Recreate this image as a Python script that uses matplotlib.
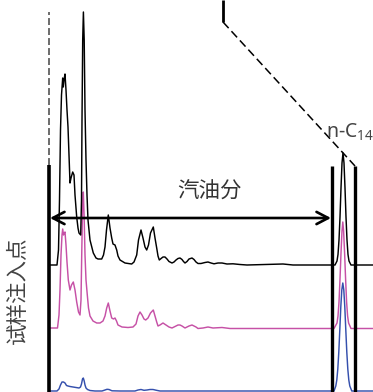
import matplotlib
matplotlib.use("Agg")
import matplotlib.pyplot as plt

plt.rcParams['lines.scale_dashes'] = False
plt.rcParams['mathtext.default'] = 'regular'

# ---------------- data ----------------
# x: retention position, signal: height above each trace's own baseline
black_x = [50, 57, 58.5, 59.5, 60.5, 61.5, 62.7, 63.3, 64, 65, 66, 67, 68, 69, 70, 71, 72.7, 74, 75,
           76.7, 78, 79, 80.7, 81.5, 82, 82.7, 83.4, 84.2, 85, 86, 87, 88, 90, 93.3, 96, 98, 101.7,
           103.5, 105, 106.5, 108.3, 110, 111.7, 113, 115, 116.7, 118, 120, 125, 131.7, 134, 136.7,
           138.5, 141, 143, 145, 146.7, 148.5, 150.5, 153.3, 155, 156.7, 158, 159.3, 161.7, 163, 165,
           167, 169, 172, 174, 176, 178, 180, 182, 183.5, 185, 187, 189, 192, 194, 196, 198, 201,
           205, 208, 211, 214, 218, 222, 227, 233, 240, 247, 283, 293,
           335, 337, 338, 339, 340, 341, 342, 343, 344, 345, 346, 347, 348, 349, 351, 373]
black_sig = [0, 0, 15, 65, 135, 170, 187, 178, 185, 191, 175, 155, 138, 110, 82, 87, 93, 90, 70,
             48, 37, 32, 30, 65, 145, 225, 253, 225, 155, 105, 70, 45, 25, 12, 7, 6, 6,
             10, 18, 35, 50, 37, 27, 21, 20, 15, 9, 5, 2, 1, 3, 10,
             25, 35, 27, 18, 15, 20, 32, 38, 27, 17, 9, 5, 7, 8, 8,
             6, 3.5, 2, 3, 5, 6.5, 7, 5.5, 3.5, 2, 3.5, 6, 7, 5.5, 3, 1.5, 1.5,
             2.5, 3, 2, 1.2, 2, 2, 1, 1.2, 0.5, 0, 1, 0,
             0, 4, 10.5, 25, 48, 77, 102, 112, 102, 77, 48, 25, 10.5, 4, 0, 0]

magenta_x = [50, 57.5, 59, 60, 61, 62, 62.7, 63.5, 64.3, 65, 66, 67, 68.3, 70, 71.5, 73.3, 75, 76.7,
             78.5, 80, 81, 81.8, 82.5, 83.3, 84.1, 85, 86, 87.3, 88.5, 90, 93, 96.7, 100, 103, 105,
             106.7, 108.3, 110, 111.7, 113.5, 115, 116.5, 118, 122, 128, 133, 136, 138, 140, 142, 144,
             145.7, 148, 150.5, 153.3, 155, 156.7, 158, 160, 163, 166, 169, 172, 174, 176, 178, 180,
             182, 183.5, 185, 187, 189, 192, 194, 196, 198, 203, 208, 213, 222, 230, 260,
             334, 337, 338, 339, 340, 341, 342, 342.8, 343.6, 344.6, 345.6, 346.6, 347.6, 348.6, 351, 373]
magenta_sig = [0, 0, 13, 38, 73, 93, 99, 93, 95, 96, 83, 66, 48, 38, 43, 46, 38, 26,
               16, 13, 28, 78, 118, 136, 113, 73, 48, 33, 20, 12, 7, 5, 5, 7, 12,
               20, 25, 17, 10, 9, 10, 7, 3, 1, 0.5, 1, 4, 12, 16, 13, 9,
               8, 10, 15, 18, 12, 6, 2, 3, 5, 3, 1, 0, 1, 2, 3, 3,
               2, 1, 0, 1, 2, 3, 2, 1, -0.5, 0, 1, 0, 0.5, -0.5, -0.5,
               -0.5, 5, 12, 26, 49, 75, 97, 106, 97, 75, 49, 26, 12, 5, -0.5, -0.5]

blue_x = [50, 57, 59, 60.5, 62, 63.5, 65, 66.5, 68, 70, 73, 76, 79, 80.5, 81.5, 82.5, 83.3, 84.2, 85,
          86, 87.5, 90, 95, 102, 105, 107, 109, 112, 120, 135, 138, 141, 144, 147, 150, 153, 156, 160,
          334, 335.8, 336.8, 337.8, 338.8, 339.8, 340.8, 341.8, 342.8, 343.8, 344.8, 345.8, 346.8,
          347.8, 348.8, 349.8, 351.8, 373]
blue_sig = [0, 0, 2, 6, 9, 9, 8, 5.5, 5, 4.5, 4, 3.5, 3, 4, 7, 12, 13, 10, 6,
            3, 1.5, 0.5, 0, 0, 1, 1.7, 1.5, 0.2, 0, 0, 1, 1.5, 0.7, 1, 1.5, 1.5, 0.8, 0,
            0, 5, 11, 22, 39, 61, 84, 101, 108, 101, 84, 61, 39,
            22, 11, 5, 0, 0]

# trace baselines (stacked offsets) and colours
offsets = {'black': 127, 'magenta': 64, 'blue': 1}
colors = {'black': '#000000', 'magenta': '#c651a6', 'blue': '#3550ad'}

# structural marks
inject_x = 49            # injection point
window_x = [331.7, 355]  # n-C14 window
window_top = 226
inject_top = 227
dashed_top = 380
zoom_src = (223, 370)    # upper end of the zoom guide
gasoline_arrow = (50, 331, 174)

# ---------------- figure ----------------
fig = plt.figure(figsize=(3.73, 3.92), dpi=100)
ax = fig.add_axes([0, 0, 1, 1])
ax.set_xlim(0, 373)
ax.set_ylim(0, 392)
ax.axis('off')

for name, xs, ss in [('blue', blue_x, blue_sig), ('magenta', magenta_x, magenta_sig),
                     ('black', black_x, black_sig)]:
    ax.plot(xs, [offsets[name] + s for s in ss], color=colors[name], lw=1.05,
            solid_joinstyle='round', zorder=2)

# injection point: dashed guide + thick line
ax.plot([inject_x, inject_x], [inject_top, dashed_top], color='#444444', lw=1.1,
        dashes=(5, 2.2), zorder=3)
ax.plot([inject_x, inject_x], [0, inject_top], color='black', lw=2.6, zorder=4,
        solid_capstyle='butt')

# n-C14 window lines
for wx in window_x:
    ax.plot([wx, wx], [0, window_top], color='black', lw=2.4, zorder=4, solid_capstyle='butt')

# zoom guide: solid stub + dashed diagonal
ax.plot([zoom_src[0], zoom_src[0]], [zoom_src[1], 392], color='black', lw=2.0, zorder=3,
        solid_capstyle='butt')
ax.plot([zoom_src[0], window_x[1]], [zoom_src[1], window_top], color='black', lw=1.1,
        dashes=(6, 3), zorder=3)

# gasoline range arrow
ax.annotate('', xy=(gasoline_arrow[0], gasoline_arrow[2]),
            xytext=(gasoline_arrow[1], gasoline_arrow[2]),
            arrowprops=dict(arrowstyle='<->,head_length=0.42,head_width=0.22',
                            lw=1.9, color='black', mutation_scale=20,
                            shrinkA=0, shrinkB=0), zorder=5)

cjk = ['Noto Sans CJK SC', 'DejaVu Sans']
ax.text(209.5, 200, '汽油分', ha='center', va='center', fontsize=15.5, color='#333333',
        family=cjk)
ax.text(18, 102, '试样注入点', ha='center', va='center', rotation=90, fontsize=15.5,
        color='#444444', family=cjk)
ax.text(326, 254, 'n-C$_{14}$', ha='left', va='baseline', fontsize=14, color='#444444',
        family=['Noto Sans', 'DejaVu Sans'])

fig.savefig('out.png', dpi=100)
